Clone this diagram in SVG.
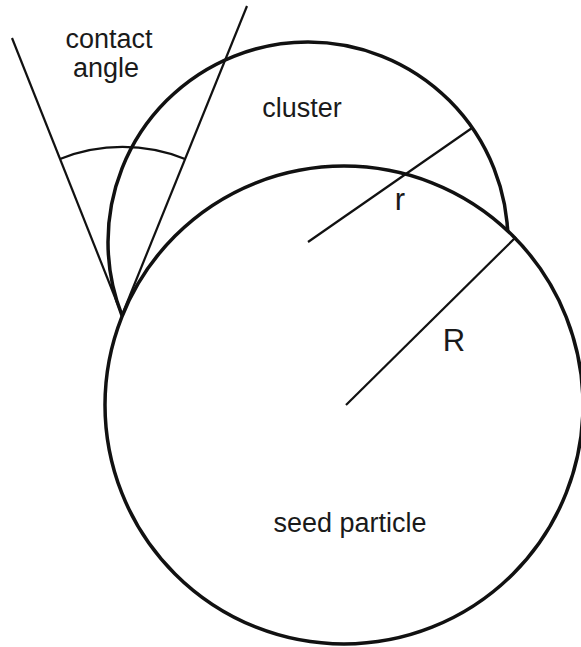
<svg xmlns="http://www.w3.org/2000/svg" width="581" height="647" viewBox="0 0 581 647">
<style>
.bg{fill:#ffffff}
.circ{fill:#ffffff;stroke:#111111;stroke-width:3.5}
.ln{fill:none;stroke:#111111;stroke-width:2.2}
.lbl{font-family:"Liberation Sans",Arial,sans-serif;font-size:27px;fill:#1a1a1a;text-anchor:middle}
.sym{font-size:31px}
</style>
<rect class="bg" x="0" y="0" width="581" height="647"/>
<g id="cluster">
<circle class="circ" cx="308" cy="242" r="200"/>
<text class="lbl" x="302" y="117">cluster</text>
</g>
<g id="seed-particle">
<circle class="circ" cx="344" cy="405" r="239"/>
<text class="lbl" x="350" y="532">seed particle</text>
</g>
<g id="connectors">
<line class="ln" x1="12" y1="38" x2="122" y2="315"/>
<line class="ln" x1="247" y1="6" x2="122" y2="315"/>
<path class="ln" d="M60,159 A168,168 0 0 1 185,159"/>
<line class="ln" x1="308" y1="242" x2="472" y2="128"/>
<line class="ln" x1="346" y1="405" x2="516" y2="237"/>
</g>
<g id="labels">
<text class="lbl" x="109" y="48">contact</text>
<text class="lbl" x="106" y="77">angle</text>
<text class="lbl sym" x="400" y="210">r</text>
<text class="lbl sym" x="454" y="351">R</text>
</g>
</svg>
